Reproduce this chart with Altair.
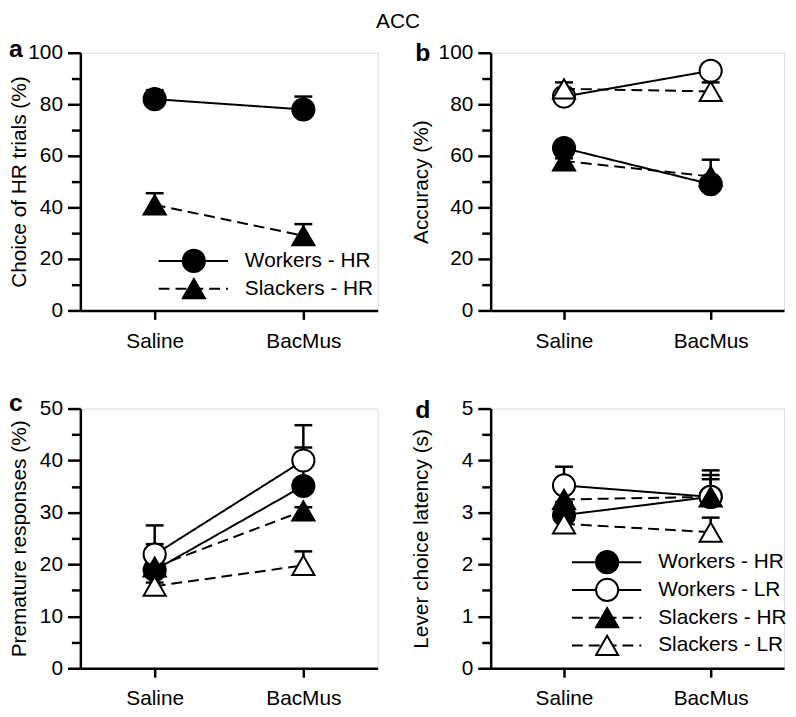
import altair as alt
import pandas as pd

FONT = "Liberation Sans"

conditions = ["Saline", "BacMus"]
series2 = ["Workers - HR", "Slackers - HR"]
series4 = ["Workers - HR", "Workers - LR", "Slackers - HR", "Slackers - LR"]

# ---- panel a : Choice of HR trials (%)  (mean, top of error bar)
a_workers_hr = [82, 78]
a_workers_hr_top = [85.5, 83]
a_slackers_hr = [41, 29]
a_slackers_hr_top = [45.5, 33.5]

# ---- panel b : Accuracy (%)
b_workers_hr = [63, 49]
b_workers_hr_top = [64, 50]
b_workers_lr = [83, 93]
b_workers_lr_top = [84.5, 95.5]
b_slackers_hr = [58, 52]
b_slackers_hr_top = [59, 58.5]
b_slackers_lr = [86, 85]
b_slackers_lr_top = [88.5, 88.5]

# ---- panel c : Premature responses (%)
c_workers_hr = [18.9, 35.1]
c_workers_hr_top = [23.9, 42.5]
c_workers_lr = [21.9, 40]
c_workers_lr_top = [27.5, 46.8]
c_slackers_hr = [19.5, 30.3]
c_slackers_hr_top = [20.5, 31]
c_slackers_lr = [15.8, 19.8]
c_slackers_lr_top = [16.5, 22.5]

# ---- panel d : Lever choice latency (s)
d_workers_hr = [2.95, 3.3]
d_workers_hr_top = [3.2, 3.64]
d_workers_lr = [3.52, 3.3]
d_workers_lr_top = [3.88, 3.81]
d_slackers_hr = [3.25, 3.3]
d_slackers_hr_top = [3.4, 3.72]
d_slackers_lr = [2.78, 2.62]
d_slackers_lr_top = [2.9, 2.9]

panel_letters = ["a", "b", "c", "d"]

CODES = {"Workers - HR": "WHR", "Workers - LR": "WLR",
         "Slackers - HR": "SHR", "Slackers - LR": "SLR"}
SHAPES = {"Workers - HR": "circle", "Workers - LR": "circle",
          "Slackers - HR": "triangle-up", "Slackers - LR": "triangle-up"}
FILLS = {"Workers - HR": "black", "Workers - LR": "white",
         "Slackers - HR": "black", "Slackers - LR": "white"}
DASHES = {"Workers - HR": [1, 0], "Workers - LR": [1, 0],
          "Slackers - HR": [11, 6], "Slackers - LR": [11, 6]}


def make_df(names, means, tops):
    rows = []
    for name, m, t in zip(names, means, tops):
        for c, mv, tv in zip(conditions, m, t):
            rows.append({"cond": c, "series_l": name, "series_p": CODES[name],
                         "mean": mv, "top": tv})
    return pd.DataFrame(rows)


def panel(df, series, ymax, ticks, mod, ytitle, title_x, letter, width, height,
          letter_dx, letter_dy, legend_xy=None):
    x = alt.X("cond:N",
              scale=alt.Scale(type="point", domain=conditions, padding=0.5),
              axis=alt.Axis(title=None, labelAngle=0, tickSize=9, tickWidth=2.5,
                            domainWidth=2.5, labelPadding=11, labelFontSize=21,
                            labelFont=FONT, labelColor="black", tickColor="black",
                            domainColor="black", grid=False))
    yscale = alt.Scale(domain=[0, ymax], nice=False, zero=True)
    major = f"datum.value % {mod} == 0"
    y_axis = alt.Y("mean:Q", scale=yscale,
                   axis=alt.Axis(title=ytitle, values=ticks, orient="left",
                                 tickSize={"condition": {"test": major, "value": 13},
                                           "value": 9},
                                 labelExpr=f"{major} ? format(datum.value, 'd') : ''",
                                 tickWidth=2.5, domainWidth=2.5,
                                 labelPadding=5, labelFontSize=21, labelFont=FONT,
                                 labelColor="black", tickColor="black",
                                 domainColor="black", titleFont=FONT,
                                 titleFontSize=21, titleFontWeight="normal",
                                 titleColor="black", titleAngle=270,
                                 titleBaseline="bottom", titleAlign="center",
                                 titleX=title_x, grid=False))
    y_plain = alt.Y("mean:Q", scale=yscale, axis=None)
    y_top = alt.Y("top:Q", scale=yscale, axis=None)

    series_codes = [CODES[s] for s in series]
    if legend_xy is not None:
        lx, ly = legend_xy
        line_legend = alt.Legend(title=None, orient="none", legendX=lx, legendY=ly,
                                 symbolType="stroke", symbolSize=4900,
                                 symbolStrokeWidth=2, symbolStrokeColor="black",
                                 labelFontSize=21, labelFont=FONT, labelColor="black",
                                 labelOffset=16, labelLimit=400, clipHeight=28,
                                 rowPadding=0, padding=0)
        pt_legend = alt.Legend(title=None, orient="none", legendX=lx + 24, legendY=ly,
                               symbolSize=500, symbolStrokeWidth=2,
                               symbolStrokeColor="black", symbolOpacity=1,
                               labelExpr="''", clipHeight=28, rowPadding=0,
                               padding=0)
    else:
        line_legend = None
        pt_legend = None

    dash_scale = alt.Scale(domain=series, range=[DASHES[s] for s in series])
    shape_scale = alt.Scale(domain=series_codes, range=[SHAPES[s] for s in series])
    fill_scale = alt.Scale(domain=series_codes, range=[FILLS[s] for s in series])
    stroke_scale = alt.Scale(domain=series_codes, range=["black"] * len(series))

    base = alt.Chart(df)
    lines = base.mark_line(color="black", strokeWidth=2).encode(
        x=x, y=y_axis,
        strokeDash=alt.StrokeDash("series_l:N", scale=dash_scale, legend=line_legend),
    )
    rules = base.mark_rule(color="black", strokeWidth=2.5).encode(
        x=x, y=y_plain, y2="top:Q")
    caps = base.mark_tick(color="black", size=18, thickness=2.5, opacity=1).encode(
        x=x, y=y_top)
    points = base.mark_point(filled=True, strokeWidth=2, opacity=1, size=500).encode(
        x=x, y=y_plain,
        shape=alt.Shape("series_p:N", scale=shape_scale, legend=pt_legend),
        fill=alt.Fill("series_p:N", scale=fill_scale, legend=pt_legend),
        stroke=alt.Stroke("series_p:N", scale=stroke_scale, legend=pt_legend),
    )
    label = alt.Chart(pd.DataFrame({"letter": [letter]})).mark_text(
        align="left", baseline="alphabetic", fontSize=25, fontWeight="bold",
        font=FONT, color="black", dx=letter_dx, dy=letter_dy,
    ).encode(x=alt.value(0), y=alt.value(0), text="letter:N")
    return alt.layer(lines, rules, caps, points, label).resolve_axis(
        y="independent").properties(width=width, height=height)


df_a = make_df(series2, [a_workers_hr, a_slackers_hr], [a_workers_hr_top, a_slackers_hr_top])
df_b = make_df(series4, [b_workers_hr, b_workers_lr, b_slackers_hr, b_slackers_lr],
               [b_workers_hr_top, b_workers_lr_top, b_slackers_hr_top, b_slackers_lr_top])
df_c = make_df(series4, [c_workers_hr, c_workers_lr, c_slackers_hr, c_slackers_lr],
               [c_workers_hr_top, c_workers_lr_top, c_slackers_hr_top, c_slackers_lr_top])
df_d = make_df(series4, [d_workers_hr, d_workers_lr, d_slackers_hr, d_slackers_lr],
               [d_workers_hr_top, d_workers_lr_top, d_slackers_hr_top, d_slackers_lr_top])

ticks100 = [0, 10, 20, 30, 40, 50, 60, 70, 80, 90, 100]
ticks50 = [0, 5, 10, 15, 20, 25, 30, 35, 40, 45, 50]
ticks5 = [0, 0.5, 1, 1.5, 2, 2.5, 3, 3.5, 4, 4.5, 5]

pa = panel(df_a, series2, 100, ticks100, 20, "Choice of HR trials (%)", -51,
           panel_letters[0], 300, 260, -72, 4, legend_xy=(78, 196))
pb = panel(df_b, series4, 100, ticks100, 20, "Accuracy (%)", -60,
           panel_letters[1], 296, 260, -76, 8)
pc = panel(df_c, series4, 50, ticks50, 10, "Premature responses (%)", -51,
           panel_letters[2], 300, 262, -72, 2)
pd_ = panel(df_d, series4, 5, ticks5, 1, "Lever choice latency (s)", -60,
            panel_letters[3], 296, 262, -76, 10, legend_xy=(81, 141))

indep = dict(shape="independent", fill="independent", stroke="independent",
             strokeDash="independent")
row1 = alt.hconcat(pa, pb, spacing=31).resolve_scale(**indep)
row2 = alt.hconcat(pc, pd_, spacing=31).resolve_scale(**indep)

chart = alt.vconcat(row1, row2, spacing=38).resolve_scale(**indep).properties(
    title=alt.TitleParams("ACC", anchor="middle", fontSize=21, fontWeight="normal",
                          font=FONT, color="black", offset=4),
    padding=0,
).configure_view(stroke="transparent").configure(font=FONT)

chart.save("out.html", embed_options={"renderer": "svg", "actions": False})
